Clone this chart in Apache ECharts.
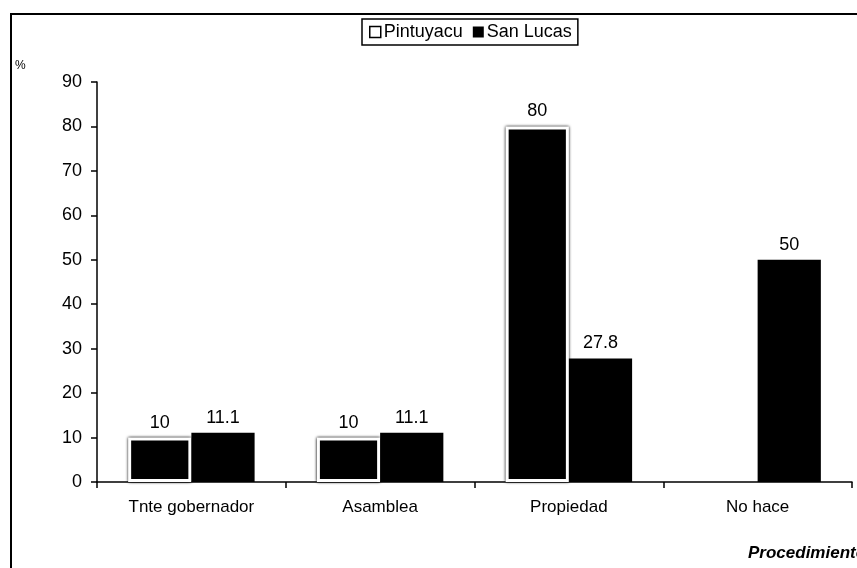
<!DOCTYPE html>
<html>
<head>
<meta charset="utf-8">
<script src="https://cdn.jsdelivr.net/npm/echarts@6/dist/echarts.min.js"></script>
<style>
  html, body { margin: 0; padding: 0; background: #fff; }
  #chart { width: 857px; height: 568px; }
</style>
</head>
<body>
<div id="chart"></div>
<script type="text/javascript">
var categories = ['Tnte gobernador', 'Asamblea', 'Propiedad', 'No hace'];
var pintuyacu = [10, 10, 80, null];
var sanLucas = [11.1, 11.1, 27.8, 50];
var yTicks = [0, 10, 20, 30, 40, 50, 60, 70, 80, 90];

var font = 'Liberation Sans, Arial, sans-serif';
var mychart = echarts.init(document.getElementById('chart'));

var option = {
    animation: false,
    backgroundColor: '#fff',
    textStyle: { fontFamily: font, color: '#000' },
    grid: { left: 97, right: 5, top: 82, bottom: 86 },
    legend: {
        left: 362, top: 19,
        padding: [4, 6, 4, 7],
        borderColor: '#000', borderWidth: 1.5,
        itemWidth: 11, itemHeight: 11, itemGap: 10,
        textStyle: { fontSize: 18, color: '#000', fontFamily: font, padding: [0, 0, 0, -2] },
        data: [
            { name: 'Pintuyacu', icon: 'rect', itemStyle: { color: '#fff', borderColor: '#000', borderWidth: 1.5 } },
            { name: 'San Lucas', icon: 'rect', itemStyle: { color: '#000' } }
        ]
    },
    xAxis: {
        type: 'category',
        data: categories,
        axisLine: { lineStyle: { color: '#000', width: 1.5 } },
        axisTick: { show: true, length: 6, lineStyle: { color: '#000', width: 1.5 } },
        axisLabel: { fontSize: 17, color: '#000', margin: 17, fontFamily: font }
    },
    yAxis: {
        type: 'value',
        min: yTicks[0], max: yTicks[yTicks.length - 1], interval: 10,
        splitLine: { show: false },
        axisLine: { show: true, lineStyle: { color: '#000', width: 1.5 } },
        axisTick: { show: true, length: 6, lineStyle: { color: '#000', width: 1.5 } },
        axisLabel: { fontSize: 18, color: '#000', margin: 15, fontFamily: font }
    },
    graphic: [
        { type: 'rect', shape: { x: 11, y: 14, width: 900, height: 700 },
          style: { fill: 'none', stroke: '#000', lineWidth: 2 }, silent: true },
        { type: 'text', left: 15, top: 60,
          style: { text: '%', fontSize: 12, fill: '#000', fontFamily: font } },
        { type: 'text', left: 748, top: 545,
          style: { text: 'Procedimientos', fontSize: 17, fontWeight: 'bold', fontStyle: 'italic', fill: '#000', fontFamily: font } }
    ],
    series: [
        {
            name: 'Pintuyacu',
            type: 'bar',
            data: pintuyacu,
            barGap: '0%',
            barCategoryGap: '33%',
            itemStyle: { color: '#000', borderColor: '#fff', borderWidth: 3, shadowColor: '#000', shadowBlur: 3 },
            label: { show: true, position: 'top', distance: 6, fontSize: 18, color: '#000', fontFamily: font }
        },
        {
            name: 'San Lucas',
            type: 'bar',
            data: sanLucas,
            itemStyle: { color: '#000' },
            label: { show: true, position: 'top', distance: 6, fontSize: 18, color: '#000', fontFamily: font }
        }
    ]
};
mychart.setOption(option);
</script>
</body>
</html>
